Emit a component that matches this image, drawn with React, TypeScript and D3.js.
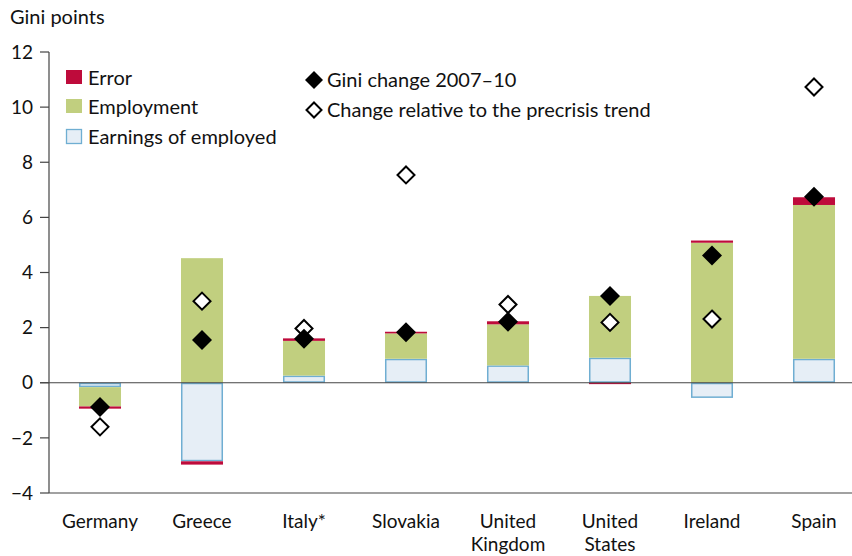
import React from "react";
import * as d3 from "d3";

const categories = ["Germany", "Greece", "Italy*", "Slovakia", "United\nKingdom", "United\nStates", "Ireland", "Spain"];
const earnings = [-0.16, -2.85, 0.26, 0.87, 0.63, 0.91, -0.55, 0.87];
const employment = [-0.7, 4.52, 1.26, 0.92, 1.49, 2.24, 5.08, 5.58];
const errorVals = [-0.08, -0.12, 0.09, 0.06, 0.11, -0.05, 0.08, 0.28];
const giniChange = [-0.88, 1.55, 1.6, 1.83, 2.21, 3.15, 4.62, 6.75];
const trendChange = [-1.6, 2.96, 1.97, 7.54, 2.84, 2.19, 2.31, 10.73];
const yTicks = [-4, -2, 0, 2, 4, 6, 8, 10, 12];

const W = 852, H = 556;
const left = 49, top = 52, bottom = 493;
const RED = "#BE0B3B", GREEN = "#C1CF7F", LBLUE = "#E6EEF6", BLUE = "#6FAED2";
const FONT = "Lato, sans-serif";
const FS = 19;
const LFS = 20;

export default function App() {
  const x = d3.scaleBand<string>().domain(categories).range([left, left + 816]).paddingInner(0.588).paddingOuter(0.294);
  const y = d3.scaleLinear().domain([-4, 12]).range([bottom, top]);
  const keys = ["earnings", "employment", "error"];
  const rows = categories.map((c, i) => ({ cat: c, earnings: earnings[i], employment: employment[i], error: errorVals[i] }));
  const series = d3.stack<any>().keys(keys).offset(d3.stackOffsetDiverging)(rows);
  const fills: Record<string, string> = { earnings: LBLUE, employment: GREEN, error: RED };
  const diamond = (cx: number, cy: number, r: number) => `M${cx},${cy - r}L${cx + r},${cy}L${cx},${cy + r}L${cx - r},${cy}Z`;

  return (
    <svg width={W} height={H} style={{ position: "absolute", left: 0, top: 0, background: "#fff" }} fontFamily={FONT}>
      <text x={10} y={24} fontSize={LFS} fill="#111">Gini points</text>
      {/* axes */}
      <line x1={left} x2={left} y1={top} y2={bottom} stroke="#444" strokeWidth={1.2} />
      <line x1={left} x2={W} y1={bottom} y2={bottom} stroke="#444" strokeWidth={1.2} />
      {yTicks.map(t => (
        <g key={t}>
          <line x1={40} x2={left} y1={y(t)} y2={y(t)} stroke="#444" strokeWidth={1.2} />
          <text x={33} y={y(t)} dy="0.35em" textAnchor="end" fontSize={FS} fill="#111">{t < 0 ? "\u2212" + Math.abs(t) : t}</text>
        </g>
      ))}
      {/* bars */}
      {series.map(s => (
        <g key={s.key}>
          {s.map((d, i) => {
            const y0 = y(d[0]), y1 = y(d[1]);
            const h = Math.abs(y1 - y0);
            if (h < 0.01) return null;
            const bx = x(categories[i])!;
            const bw = x.bandwidth();
            return s.key === "earnings" ? (
              <rect key={i} x={bx + 0.75} y={Math.min(y0, y1) + 0.75} width={bw - 1.5} height={Math.max(h - 1.5, 0.5)} fill={LBLUE} stroke={BLUE} strokeWidth={1.5} />
            ) : (
              <rect key={i} x={bx} y={Math.min(y0, y1)} width={bw} height={h} fill={fills[s.key]} />
            );
          })}
        </g>
      ))}
      {/* zero line */}
      <line x1={40} x2={W} y1={y(0)} y2={y(0)} stroke="#444" strokeWidth={1.2} />
      {/* markers */}
      {categories.map((c, i) => {
        const cx = x(c)! + x.bandwidth() / 2;
        return (
          <g key={c}>
            <path d={diamond(cx, y(trendChange[i]), 8.5)} fill="#fff" stroke="#000" strokeWidth={2} />
            <path d={diamond(cx, y(giniChange[i]), 10)} fill="#000" />
          </g>
        );
      })}
      {/* x labels */}
      {categories.map(c => {
        const cx = x(c)! + x.bandwidth() / 2;
        return (
          <text key={c} x={cx} y={528} textAnchor="middle" fontSize={FS} fill="#111">
            {c.split("\n").map((l, k) => (
              <tspan key={k} x={cx} dy={k === 0 ? 0 : 23}>{l}</tspan>
            ))}
          </text>
        );
      })}
      {/* legend */}
      <rect x={66} y={70} width={16} height={14} fill={RED} />
      <text x={88} y={77.5} dy="0.35em" fontSize={LFS} fill="#111">Error</text>
      <rect x={66} y={99} width={16} height={14} fill={GREEN} />
      <text x={88} y={106.5} dy="0.35em" fontSize={LFS} fill="#111">Employment</text>
      <rect x={66.5} y={129.5} width={15} height={14} fill={LBLUE} stroke={BLUE} strokeWidth={1.3} />
      <text x={88} y={137} dy="0.35em" fontSize={LFS} fill="#111">Earnings of employed</text>
      <path d={diamond(314, 80, 9)} fill="#000" />
      <text x={327} y={80} dy="0.35em" fontSize={LFS} fill="#111">Gini change 2007–10</text>
      <path d={diamond(314, 110, 7.5)} fill="#fff" stroke="#000" strokeWidth={2} />
      <text x={327} y={110} dy="0.35em" fontSize={LFS} fill="#111">Change relative to the precrisis trend</text>
    </svg>
  );
}
